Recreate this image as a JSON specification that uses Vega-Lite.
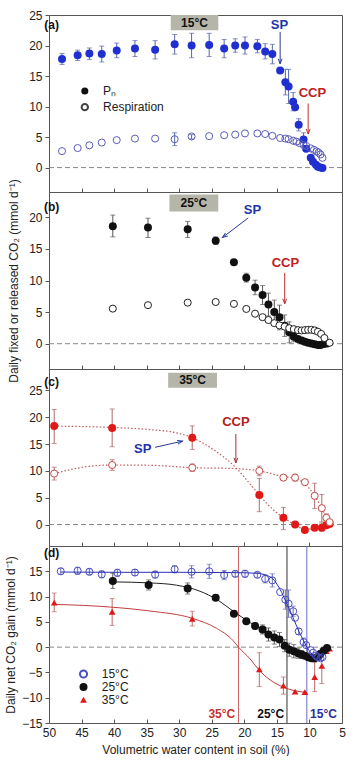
{
"$schema": "https://vega.github.io/schema/vega-lite/v6.json",
"padding": {"left": 4, "top": 8, "right": 5, "bottom": 0},
"spacing": 0,
"bounds": "flush",
"config": {
 "font": "Liberation Sans",
 "view": {"stroke": "#555", "strokeWidth": 1},
 "axis": {"domain": false, "grid": false, "labelOverlap": false, "labelFlush": false, "tickCount": 20, "tickColor": "#555", "tickSize": 4, "labelFont": "Liberation Sans", "labelFontSize": 12, "labelColor": "#222", "labelPadding": 3, "titleFont": "Liberation Sans", "titleFontSize": 12, "titleFontWeight": "normal", "titleColor": "#222"},
 "axisX": {"tickSize": -4, "labelPadding": 8}
},
"datasets": {
 "a": [
  {"s":"P","x":48.0,"y":17.8,"lo":16.9,"hi":18.7},
  {"s":"P","x":45.6,"y":18.4,"lo":17.55,"hi":19.25},
  {"s":"P","x":43.8,"y":18.7,"lo":17.7,"hi":19.6},
  {"s":"P","x":41.9,"y":18.6,"lo":17.3,"hi":19.9},
  {"s":"P","x":39.6,"y":19.2,"lo":18.0,"hi":20.4},
  {"s":"P","x":36.8,"y":19.5,"lo":18.2,"hi":20.8},
  {"s":"P","x":33.7,"y":19.3,"lo":17.8,"hi":20.8},
  {"s":"P","x":30.7,"y":20.2,"lo":18.6,"hi":21.8},
  {"s":"P","x":28.1,"y":20.0,"lo":18.0,"hi":22.0},
  {"s":"P","x":25.4,"y":20.1,"lo":18.2,"hi":22.0},
  {"s":"P","x":23.1,"y":19.5,"lo":18.0,"hi":21.0},
  {"s":"P","x":21.4,"y":20.0,"lo":18.9,"hi":21.1},
  {"s":"P","x":19.9,"y":20.0,"lo":18.6,"hi":21.4},
  {"s":"P","x":18.0,"y":19.9,"lo":18.8,"hi":21.0},
  {"s":"P","x":16.8,"y":19.0,"lo":17.8,"hi":20.3},
  {"s":"P","x":15.7,"y":18.6,"lo":17.0,"hi":20.2},
  {"s":"P","x":14.5,"y":15.9},
  {"s":"P","x":13.7,"y":14.0,"lo":11.9,"hi":16.1},
  {"s":"P","x":13.2,"y":13.3,"lo":10.5,"hi":16.1},
  {"s":"P","x":12.5,"y":10.8,"lo":9.3,"hi":12.3},
  {"s":"P","x":12.2,"y":9.9},
  {"s":"P","x":11.65,"y":7.0,"lo":6.0,"hi":8.0},
  {"s":"P","x":10.9,"y":4.6,"lo":3.5,"hi":5.7},
  {"s":"P","x":10.5,"y":3.1},
  {"s":"P","x":9.8,"y":1.6},
  {"s":"P","x":9.45,"y":0.95},
  {"s":"P","x":9.0,"y":0.45},
  {"s":"P","x":8.7,"y":0.15},
  {"s":"P","x":8.3,"y":0.02},
  {"s":"P","x":8.0,"y":-0.05},
  {"s":"R","x":48.0,"y":2.7},
  {"s":"R","x":45.6,"y":3.2},
  {"s":"R","x":43.8,"y":3.65},
  {"s":"R","x":41.9,"y":4.1},
  {"s":"R","x":39.6,"y":4.5},
  {"s":"R","x":36.8,"y":4.75},
  {"s":"R","x":33.7,"y":4.75},
  {"s":"R","x":30.7,"y":4.65,"lo":3.6,"hi":5.7},
  {"s":"R","x":28.1,"y":5.1,"lo":4.7,"hi":5.4},
  {"s":"R","x":25.4,"y":5.15},
  {"s":"R","x":23.1,"y":5.3},
  {"s":"R","x":21.4,"y":5.4},
  {"s":"R","x":19.9,"y":5.6},
  {"s":"R","x":18.0,"y":5.6},
  {"s":"R","x":16.8,"y":5.5},
  {"s":"R","x":15.7,"y":5.2},
  {"s":"R","x":14.5,"y":4.85},
  {"s":"R","x":13.7,"y":4.75},
  {"s":"R","x":13.2,"y":4.65},
  {"s":"R","x":12.5,"y":4.4},
  {"s":"R","x":12.0,"y":4.25},
  {"s":"R","x":11.5,"y":4.0},
  {"s":"R","x":10.9,"y":3.7},
  {"s":"R","x":10.5,"y":3.55},
  {"s":"R","x":9.8,"y":3.15},
  {"s":"R","x":9.3,"y":2.9},
  {"s":"R","x":8.9,"y":2.65},
  {"s":"R","x":8.6,"y":2.45},
  {"s":"R","x":8.3,"y":2.15},
  {"s":"R","x":8.0,"y":1.6}
 ],
 "b": [
  {"s":"P","x":40.2,"y":18.6,"lo":16.9,"hi":20.35},
  {"s":"P","x":34.8,"y":18.4,"lo":16.8,"hi":19.85},
  {"s":"P","x":28.7,"y":18.1,"lo":16.8,"hi":19.35},
  {"s":"P","x":24.4,"y":16.3,"lo":15.7,"hi":16.9},
  {"s":"P","x":21.6,"y":12.9},
  {"s":"P","x":19.7,"y":10.45,"lo":9.75,"hi":11.15},
  {"s":"P","x":18.35,"y":8.9,"lo":7.75,"hi":10.05},
  {"s":"P","x":17.2,"y":7.7,"lo":6.2,"hi":9.2},
  {"s":"P","x":16.3,"y":6.2,"lo":4.4,"hi":8.0},
  {"s":"P","x":15.4,"y":5.0,"lo":3.0,"hi":6.9},
  {"s":"P","x":14.6,"y":4.2,"lo":2.2,"hi":6.1},
  {"s":"P","x":13.8,"y":2.85,"lo":1.15,"hi":4.55},
  {"s":"P","x":13.1,"y":1.8,"lo":0.15,"hi":3.45},
  {"s":"P","x":12.4,"y":1.1,"lo":0.3,"hi":1.9},
  {"s":"P","x":11.75,"y":0.75},
  {"s":"P","x":11.2,"y":0.5},
  {"s":"P","x":10.7,"y":0.3},
  {"s":"P","x":10.2,"y":0.15},
  {"s":"P","x":9.7,"y":0.05},
  {"s":"P","x":9.2,"y":-0.1},
  {"s":"P","x":8.7,"y":-0.2},
  {"s":"P","x":8.3,"y":-0.2},
  {"s":"P","x":7.8,"y":-0.05},
  {"s":"P","x":7.3,"y":0.05},
  {"s":"R","x":40.2,"y":5.55},
  {"s":"R","x":34.8,"y":6.1},
  {"s":"R","x":28.7,"y":6.5},
  {"s":"R","x":24.4,"y":6.6},
  {"s":"R","x":21.6,"y":6.3},
  {"s":"R","x":19.7,"y":5.5},
  {"s":"R","x":18.35,"y":4.75},
  {"s":"R","x":17.2,"y":4.2},
  {"s":"R","x":16.3,"y":3.75},
  {"s":"R","x":15.4,"y":3.25},
  {"s":"R","x":14.6,"y":2.9},
  {"s":"R","x":13.8,"y":2.7},
  {"s":"R","x":13.1,"y":2.45},
  {"s":"R","x":12.4,"y":2.3},
  {"s":"R","x":11.75,"y":2.15},
  {"s":"R","x":11.2,"y":2.1},
  {"s":"R","x":10.7,"y":2.15},
  {"s":"R","x":10.2,"y":2.2},
  {"s":"R","x":9.7,"y":2.2},
  {"s":"R","x":9.2,"y":2.1},
  {"s":"R","x":8.7,"y":1.9},
  {"s":"R","x":8.2,"y":1.55},
  {"s":"R","x":7.7,"y":0.9},
  {"s":"R","x":6.9,"y":0.15}
 ],
 "c": [
  {"s":"P","x":49.2,"y":18.35,"lo":15.1,"hi":21.45},
  {"s":"P","x":40.3,"y":18.0,"lo":14.5,"hi":21.55},
  {"s":"P","x":28.0,"y":16.2,"lo":14.0,"hi":18.4},
  {"s":"P","x":17.7,"y":5.5,"lo":2.4,"hi":8.6},
  {"s":"P","x":14.0,"y":1.25,"lo":-0.95,"hi":3.2},
  {"s":"P","x":12.2,"y":0.0},
  {"s":"P","x":10.7,"y":-1.0,"lo":-1.5,"hi":-0.4},
  {"s":"P","x":9.2,"y":-0.6},
  {"s":"P","x":8.1,"y":-0.6,"lo":-1.2,"hi":0.3},
  {"s":"P","x":7.4,"y":-0.15},
  {"s":"P","x":6.9,"y":0.1},
  {"s":"R","x":49.2,"y":9.5,"lo":8.3,"hi":10.7},
  {"s":"R","x":40.3,"y":11.1,"lo":10.1,"hi":12.1},
  {"s":"R","x":28.0,"y":10.6,"lo":9.9,"hi":11.3},
  {"s":"R","x":17.7,"y":10.0,"lo":9.1,"hi":10.9},
  {"s":"R","x":14.0,"y":8.75,"lo":8.2,"hi":9.3},
  {"s":"R","x":12.2,"y":8.75,"lo":8.1,"hi":9.4},
  {"s":"R","x":10.7,"y":7.9},
  {"s":"R","x":9.2,"y":5.35,"lo":3.0,"hi":7.7},
  {"s":"R","x":8.1,"y":3.05,"lo":0.5,"hi":5.6},
  {"s":"R","x":7.4,"y":1.25,"lo":0.5,"hi":2.0},
  {"s":"R","x":6.9,"y":0.45}
 ],
 "cfit": [
  {"s":"P","x":49.2,"y":18.35},{"s":"P","x":40.3,"y":18.1},{"s":"P","x":34.5,"y":17.7},{"s":"P","x":30.4,"y":17.1},{"s":"P","x":28.0,"y":16.2},{"s":"P","x":24.8,"y":14.0},{"s":"P","x":21.3,"y":10.6},{"s":"P","x":18.6,"y":6.8},{"s":"P","x":16.6,"y":4.0},{"s":"P","x":14.0,"y":1.25},{"s":"P","x":12.2,"y":0.0},{"s":"P","x":10.7,"y":-0.9},{"s":"P","x":9.2,"y":-0.7},{"s":"P","x":7.9,"y":-0.4},{"s":"P","x":6.9,"y":0.0},
  {"s":"R","x":49.2,"y":9.5},{"s":"R","x":44.7,"y":10.7},{"s":"R","x":40.3,"y":11.1},{"s":"R","x":34.5,"y":11.05},{"s":"R","x":28.0,"y":10.6},{"s":"R","x":21.7,"y":10.45},{"s":"R","x":17.7,"y":10.0},{"s":"R","x":14.0,"y":8.95},{"s":"R","x":12.2,"y":8.6},{"s":"R","x":10.7,"y":7.6},{"s":"R","x":9.2,"y":5.35},{"s":"R","x":8.1,"y":3.05},{"s":"R","x":7.4,"y":1.35},{"s":"R","x":6.9,"y":0.45}
 ],
 "d": [
  {"s":"15","x":48.2,"y":15.0,"lo":14.4,"hi":15.6},
  {"s":"15","x":45.6,"y":15.1,"lo":14.4,"hi":15.8},
  {"s":"15","x":43.8,"y":14.9,"lo":14.3,"hi":15.5},
  {"s":"15","x":41.9,"y":14.4,"lo":13.7,"hi":15.1},
  {"s":"15","x":39.5,"y":14.7,"lo":14.0,"hi":15.4},
  {"s":"15","x":36.8,"y":14.75,"lo":14.15,"hi":15.35},
  {"s":"15","x":33.7,"y":14.35,"lo":13.65,"hi":15.05},
  {"s":"15","x":30.7,"y":15.4,"lo":14.7,"hi":16.1},
  {"s":"15","x":28.1,"y":14.9,"lo":13.7,"hi":16.1},
  {"s":"15","x":25.4,"y":15.0,"lo":13.6,"hi":16.4},
  {"s":"15","x":23.1,"y":14.25,"lo":13.35,"hi":15.15},
  {"s":"15","x":21.4,"y":14.5,"lo":13.9,"hi":15.1},
  {"s":"15","x":19.9,"y":14.5,"lo":13.8,"hi":15.2},
  {"s":"15","x":18.0,"y":14.3,"lo":13.8,"hi":14.8},
  {"s":"15","x":16.8,"y":13.5,"lo":12.7,"hi":14.3},
  {"s":"15","x":15.7,"y":13.2,"lo":11.9,"hi":14.5},
  {"s":"15","x":14.5,"y":10.9},
  {"s":"15","x":13.7,"y":9.4,"lo":7.5,"hi":11.3},
  {"s":"15","x":13.2,"y":8.6,"lo":5.9,"hi":11.3},
  {"s":"15","x":12.5,"y":7.1,"lo":6.1,"hi":8.1},
  {"s":"15","x":12.2,"y":5.8},
  {"s":"15","x":11.65,"y":3.1,"lo":2.5,"hi":3.7},
  {"s":"15","x":10.9,"y":1.0,"lo":0.2,"hi":1.8},
  {"s":"15","x":10.5,"y":0.4},
  {"s":"15","x":9.8,"y":-0.6},
  {"s":"15","x":9.45,"y":-1.1},
  {"s":"15","x":9.0,"y":-1.7},
  {"s":"15","x":8.7,"y":-2.0},
  {"s":"15","x":8.3,"y":-2.2},
  {"s":"15","x":8.0,"y":-2.0},
  {"s":"25","x":40.2,"y":13.1,"lo":11.6,"hi":14.6},
  {"s":"25","x":34.7,"y":12.3,"lo":11.3,"hi":13.3},
  {"s":"25","x":28.7,"y":11.6,"lo":10.5,"hi":12.7},
  {"s":"25","x":24.4,"y":9.75},
  {"s":"25","x":21.6,"y":6.6},
  {"s":"25","x":19.7,"y":5.1},
  {"s":"25","x":18.35,"y":4.2,"lo":3.6,"hi":4.8},
  {"s":"25","x":17.2,"y":3.5,"lo":2.6,"hi":4.4},
  {"s":"25","x":16.3,"y":2.5,"lo":1.2,"hi":3.8},
  {"s":"25","x":15.4,"y":1.9,"lo":0.6,"hi":3.2},
  {"s":"25","x":14.6,"y":1.5,"lo":0.1,"hi":2.9},
  {"s":"25","x":13.8,"y":0.3,"lo":-0.9,"hi":1.5},
  {"s":"25","x":13.1,"y":-0.5,"lo":-1.8,"hi":0.8},
  {"s":"25","x":12.4,"y":-0.8,"lo":-2.1,"hi":0.5},
  {"s":"25","x":11.75,"y":-1.2,"lo":-2.2,"hi":-0.2},
  {"s":"25","x":11.2,"y":-1.45,"lo":-2.25,"hi":-0.65},
  {"s":"25","x":10.7,"y":-1.7},
  {"s":"25","x":10.2,"y":-2.0},
  {"s":"25","x":9.7,"y":-2.2},
  {"s":"25","x":9.2,"y":-2.2},
  {"s":"25","x":8.7,"y":-1.9},
  {"s":"25","x":8.3,"y":-1.3},
  {"s":"25","x":7.8,"y":-0.7},
  {"s":"25","x":7.3,"y":-0.15},
  {"s":"35","x":49.2,"y":8.8,"lo":7.0,"hi":10.7},
  {"s":"35","x":40.3,"y":7.0,"lo":4.3,"hi":9.6},
  {"s":"35","x":28.0,"y":5.6,"lo":4.2,"hi":7.1},
  {"s":"35","x":17.7,"y":-4.4,"lo":-7.8,"hi":-1.1},
  {"s":"35","x":14.0,"y":-7.6,"lo":-9.3,"hi":-5.9},
  {"s":"35","x":12.2,"y":-8.8},
  {"s":"35","x":10.7,"y":-8.9},
  {"s":"35","x":9.2,"y":-5.9,"lo":-8.8,"hi":-3.0},
  {"s":"35","x":8.1,"y":-3.7,"lo":-7.2,"hi":-0.2},
  {"s":"35","x":7.4,"y":-0.8},
  {"s":"35","x":6.9,"y":-0.3}
 ],
 "dfit": [
  {"s":"15","x":48.2,"y":14.85},{"s":"15","x":40.0,"y":14.8},{"s":"15","x":30.0,"y":14.8},{"s":"15","x":22.0,"y":14.75},{"s":"15","x":18.0,"y":14.6},{"s":"15","x":16.6,"y":14.2},{"s":"15","x":15.7,"y":13.6},{"s":"15","x":14.5,"y":11.4},{"s":"15","x":13.55,"y":8.8},{"s":"15","x":12.5,"y":5.8},{"s":"15","x":11.65,"y":3.2},{"s":"15","x":10.9,"y":1.25},{"s":"15","x":10.2,"y":-0.4},{"s":"15","x":9.45,"y":-1.6},{"s":"15","x":8.9,"y":-2.3},{"s":"15","x":8.3,"y":-2.35},{"s":"15","x":7.9,"y":-1.6},
  {"s":"25","x":40.2,"y":12.9},{"s":"25","x":34.5,"y":12.7},{"s":"25","x":30.4,"y":12.25},{"s":"25","x":26.8,"y":11.05},{"s":"25","x":24.2,"y":9.4},{"s":"25","x":21.7,"y":7.1},{"s":"25","x":19.1,"y":4.85},{"s":"25","x":16.6,"y":2.9},{"s":"25","x":14.0,"y":1.0},{"s":"25","x":11.5,"y":-0.9},{"s":"25","x":9.7,"y":-2.0},
  {"s":"35","x":49.2,"y":8.45},{"s":"35","x":44.7,"y":8.25},{"s":"35","x":40.3,"y":7.9},{"s":"35","x":34.5,"y":7.15},{"s":"35","x":28.0,"y":5.7},{"s":"35","x":24.3,"y":3.75},{"s":"35","x":21.7,"y":1.25},{"s":"35","x":20.9,"y":0.0},{"s":"35","x":19.1,"y":-2.35},{"s":"35","x":17.7,"y":-4.6},{"s":"35","x":15.5,"y":-6.95},{"s":"35","x":14.0,"y":-7.9},{"s":"35","x":12.5,"y":-8.55},{"s":"35","x":10.7,"y":-8.9}
 ]
},
"vconcat": [
 {
  "width": 293, "height": 177,
  "layer": [
   {"data": {"values": [{"x": 50, "x2": 5, "y": 0}]}, "mark": {"type": "rule", "color": "#888", "strokeDash": [5, 3]},
    "encoding": {"x": {"field": "x", "type": "quantitative", "scale": {"domain": [50, 5], "nice": false, "zero": false}, "axis": {"values": [50,45,40,35,30,25,20,15,10,5], "tickCount": 20, "labels": false, "title": null}}, "x2": {"field": "x2"},
     "y": {"field": "y", "type": "quantitative", "scale": {"domain": [-4, 25], "nice": false, "zero": false}, "axis": {"values": [0,5,10,15,20,25], "tickCount": 20, "title": null}}}},
   {"data": {"name": "a"}, "transform": [{"filter": "isValid(datum.lo)"}], "mark": {"type": "errorbar", "ticks": true, "color": "#5865a8"},
    "encoding": {"x": {"field": "x", "type": "quantitative", "scale": {"domain": [50, 5], "nice": false, "zero": false}, "axis": {"values": [50,45,40,35,30,25,20,15,10,5], "tickCount": 20, "labels": false, "title": null}},
     "y": {"field": "lo", "type": "quantitative", "title": null, "scale": {"domain": [-4, 25], "nice": false, "zero": false}, "axis": {"values": [0,5,10,15,20,25], "tickCount": 20, "title": null}}, "y2": {"field": "hi"}}},
   {"data": {"name": "a"}, "transform": [{"filter": "datum.s == 'P'"}], "mark": {"type": "circle", "size": 64, "color": "#1f2fd0", "opacity": 1},
    "encoding": {"x": {"field": "x", "type": "quantitative", "scale": {"domain": [50, 5], "nice": false, "zero": false}, "axis": {"values": [50,45,40,35,30,25,20,15,10,5], "tickCount": 20, "labels": false, "title": null}},
     "y": {"field": "y", "type": "quantitative", "scale": {"domain": [-4, 25], "nice": false, "zero": false}, "axis": {"values": [0,5,10,15,20,25], "tickCount": 20, "title": null}}}},
   {"data": {"name": "a"}, "transform": [{"filter": "datum.s == 'R'"}], "mark": {"type": "point", "shape": "circle", "filled": false, "size": 50, "stroke": "#5a5cb8", "strokeWidth": 1, "opacity": 1},
    "encoding": {"x": {"field": "x", "type": "quantitative", "scale": {"domain": [50, 5], "nice": false, "zero": false}, "axis": {"values": [50,45,40,35,30,25,20,15,10,5], "tickCount": 20, "labels": false, "title": null}},
     "y": {"field": "y", "type": "quantitative", "scale": {"domain": [-4, 25], "nice": false, "zero": false}, "axis": {"values": [0,5,10,15,20,25], "tickCount": 20, "title": null}}}},
   {"data": {"values": [{"x": 31.3, "x2": 24.0, "y": 25, "y2": 22.5}]}, "mark": {"type": "rect", "color": "#b5b5a9"},
    "encoding": {"x": {"field": "x", "type": "quantitative"}, "x2": {"field": "x2"}, "y": {"field": "y", "type": "quantitative"}, "y2": {"field": "y2"}}},
   {"data": {"values": [{"x": 27.65, "y": 23.75, "t": "15°C"}, {"x": 49.6, "y": 23.3, "t": "(a)"}]}, "mark": {"type": "text", "fontWeight": "bold", "fontSize": 12, "color": "#111", "align": "center", "baseline": "middle"},
    "encoding": {"x": {"field": "x", "type": "quantitative"}, "y": {"field": "y", "type": "quantitative"}, "text": {"field": "t"}}},
   {"data": {"values": [{"x": 44.5, "y": 12.55}]}, "mark": {"type": "circle", "size": 50, "color": "#111", "opacity": 1},
    "encoding": {"x": {"field": "x", "type": "quantitative"}, "y": {"field": "y", "type": "quantitative"}}},
   {"data": {"values": [{"x": 44.5, "y": 9.9}]}, "mark": {"type": "point", "shape": "circle", "filled": false, "size": 40, "stroke": "#444", "opacity": 1},
    "encoding": {"x": {"field": "x", "type": "quantitative"}, "y": {"field": "y", "type": "quantitative"}}},
   {"data": {"values": [{"x": 41.7, "y": 12.55, "t": "Pₙ"}, {"x": 41.7, "y": 9.9, "t": "Respiration"}]}, "mark": {"type": "text", "fontSize": 12, "color": "#222", "align": "left", "baseline": "middle"},
    "encoding": {"x": {"field": "x", "type": "quantitative"}, "y": {"field": "y", "type": "quantitative"}, "text": {"field": "t"}}},
   {"data": {"values": [{"x": 14.5, "y": 22.2, "x2": 14.5, "y2": 17.0}]}, "mark": {"type": "rule", "color": "#2a3a9a"},
    "encoding": {"x": {"field": "x", "type": "quantitative"}, "y": {"field": "y", "type": "quantitative"}, "x2": {"field": "x2"}, "y2": {"field": "y2"}}},
   {"data": {"values": [{"x": 14.5, "y": 17.0}]}, "mark": {"type": "point", "shape": "M-0.6,-1.6L0,0L0.6,-1.6", "filled": false, "size": 40, "stroke": "#2a3a9a", "strokeWidth": 1, "opacity": 1},
    "encoding": {"x": {"field": "x", "type": "quantitative"}, "y": {"field": "y", "type": "quantitative"}}},
   {"data": {"values": [{"x": 14.6, "y": 23.3, "t": "SP"}]}, "mark": {"type": "text", "fontWeight": "bold", "fontSize": 13, "color": "#2233aa", "align": "center", "baseline": "middle"},
    "encoding": {"x": {"field": "x", "type": "quantitative"}, "y": {"field": "y", "type": "quantitative"}, "text": {"field": "t"}}},
   {"data": {"values": [{"x": 10.2, "y": 10.5, "x2": 10.2, "y2": 5.5}]}, "mark": {"type": "rule", "color": "#c03030"},
    "encoding": {"x": {"field": "x", "type": "quantitative"}, "y": {"field": "y", "type": "quantitative"}, "x2": {"field": "x2"}, "y2": {"field": "y2"}}},
   {"data": {"values": [{"x": 10.2, "y": 5.5}]}, "mark": {"type": "point", "shape": "M-0.6,-1.6L0,0L0.6,-1.6", "filled": false, "size": 40, "stroke": "#c03030", "strokeWidth": 1, "opacity": 1},
    "encoding": {"x": {"field": "x", "type": "quantitative"}, "y": {"field": "y", "type": "quantitative"}}},
   {"data": {"values": [{"x": 9.55, "y": 12.3, "t": "CCP"}]}, "mark": {"type": "text", "fontWeight": "bold", "fontSize": 13, "color": "#c02020", "align": "center", "baseline": "middle"},
    "encoding": {"x": {"field": "x", "type": "quantitative"}, "y": {"field": "y", "type": "quantitative"}, "text": {"field": "t"}}}
  ]
 },
 {
  "width": 293, "height": 177,
  "layer": [
   {"data": {"values": [{"x": 50, "x2": 5, "y": 0}]}, "mark": {"type": "rule", "color": "#888", "strokeDash": [5, 3]},
    "encoding": {"x": {"field": "x", "type": "quantitative", "scale": {"domain": [50, 5], "nice": false, "zero": false}, "axis": {"values": [50,45,40,35,30,25,20,15,10,5], "tickCount": 20, "labels": false, "title": null}}, "x2": {"field": "x2"},
     "y": {"field": "y", "type": "quantitative", "scale": {"domain": [-4, 24], "nice": false, "zero": false}, "axis": {"values": [0,5,10,15,20], "tickCount": 20, "title": "Daily fixed or released CO₂ (mmol d⁻¹)", "titlePadding": 8}}}},
   {"data": {"name": "b"}, "transform": [{"filter": "isValid(datum.lo)"}], "mark": {"type": "errorbar", "ticks": true, "color": "#555"},
    "encoding": {"x": {"field": "x", "type": "quantitative", "scale": {"domain": [50, 5], "nice": false, "zero": false}, "axis": {"values": [50,45,40,35,30,25,20,15,10,5], "tickCount": 20, "labels": false, "title": null}},
     "y": {"field": "lo", "type": "quantitative", "title": "Daily fixed or released CO₂ (mmol d⁻¹)", "scale": {"domain": [-4, 24], "nice": false, "zero": false}, "axis": {"values": [0,5,10,15,20], "tickCount": 20, "title": "Daily fixed or released CO₂ (mmol d⁻¹)", "titlePadding": 8}}, "y2": {"field": "hi"}}},
   {"data": {"name": "b"}, "transform": [{"filter": "datum.s == 'P'"}], "mark": {"type": "circle", "size": 64, "color": "#111", "opacity": 1},
    "encoding": {"x": {"field": "x", "type": "quantitative", "scale": {"domain": [50, 5], "nice": false, "zero": false}, "axis": {"values": [50,45,40,35,30,25,20,15,10,5], "tickCount": 20, "labels": false, "title": null}},
     "y": {"field": "y", "type": "quantitative", "scale": {"domain": [-4, 24], "nice": false, "zero": false}, "axis": {"values": [0,5,10,15,20], "tickCount": 20, "title": "Daily fixed or released CO₂ (mmol d⁻¹)", "titlePadding": 8}}}},
   {"data": {"name": "b"}, "transform": [{"filter": "datum.s == 'R'"}], "mark": {"type": "point", "shape": "circle", "filled": true, "fill": "#fff", "size": 50, "stroke": "#222", "strokeWidth": 1, "opacity": 1},
    "encoding": {"x": {"field": "x", "type": "quantitative", "scale": {"domain": [50, 5], "nice": false, "zero": false}, "axis": {"values": [50,45,40,35,30,25,20,15,10,5], "tickCount": 20, "labels": false, "title": null}},
     "y": {"field": "y", "type": "quantitative", "scale": {"domain": [-4, 24], "nice": false, "zero": false}, "axis": {"values": [0,5,10,15,20], "tickCount": 20, "title": "Daily fixed or released CO₂ (mmol d⁻¹)", "titlePadding": 8}}}},
   {"data": {"values": [{"x": 31.5, "x2": 24.0, "y": 23.6, "y2": 20.9}]}, "mark": {"type": "rect", "color": "#b5b5a9"},
    "encoding": {"x": {"field": "x", "type": "quantitative"}, "x2": {"field": "x2"}, "y": {"field": "y", "type": "quantitative"}, "y2": {"field": "y2"}}},
   {"data": {"values": [{"x": 27.75, "y": 22.25, "t": "25°C"}, {"x": 49.6, "y": 21.7, "t": "(b)"}]}, "mark": {"type": "text", "fontWeight": "bold", "fontSize": 12, "color": "#111", "align": "center", "baseline": "middle"},
    "encoding": {"x": {"field": "x", "type": "quantitative"}, "y": {"field": "y", "type": "quantitative"}, "text": {"field": "t"}}},
   {"data": {"values": [{"x": 19.4, "y": 19.9, "x2": 23.35, "y2": 16.8}]}, "mark": {"type": "rule", "color": "#2a3a9a"},
    "encoding": {"x": {"field": "x", "type": "quantitative"}, "y": {"field": "y", "type": "quantitative"}, "x2": {"field": "x2"}, "y2": {"field": "y2"}}},
   {"data": {"values": [{"x": 23.35, "y": 16.8}]}, "mark": {"type": "point", "shape": "M-0.6,-1.6L0,0L0.6,-1.6", "angle": 53, "filled": false, "size": 40, "stroke": "#2a3a9a", "strokeWidth": 1, "opacity": 1},
    "encoding": {"x": {"field": "x", "type": "quantitative"}, "y": {"field": "y", "type": "quantitative"}}},
   {"data": {"values": [{"x": 18.75, "y": 21.2, "t": "SP"}]}, "mark": {"type": "text", "fontWeight": "bold", "fontSize": 13, "color": "#2233aa", "align": "center", "baseline": "middle"},
    "encoding": {"x": {"field": "x", "type": "quantitative"}, "y": {"field": "y", "type": "quantitative"}, "text": {"field": "t"}}},
   {"data": {"values": [{"x": 13.8, "y": 11.2, "x2": 13.8, "y2": 6.3}]}, "mark": {"type": "rule", "color": "#c03030"},
    "encoding": {"x": {"field": "x", "type": "quantitative"}, "y": {"field": "y", "type": "quantitative"}, "x2": {"field": "x2"}, "y2": {"field": "y2"}}},
   {"data": {"values": [{"x": 13.8, "y": 6.3}]}, "mark": {"type": "point", "shape": "M-0.6,-1.6L0,0L0.6,-1.6", "filled": false, "size": 40, "stroke": "#c03030", "strokeWidth": 1, "opacity": 1},
    "encoding": {"x": {"field": "x", "type": "quantitative"}, "y": {"field": "y", "type": "quantitative"}}},
   {"data": {"values": [{"x": 13.7, "y": 12.8, "t": "CCP"}]}, "mark": {"type": "text", "fontWeight": "bold", "fontSize": 13, "color": "#c02020", "align": "center", "baseline": "middle"},
    "encoding": {"x": {"field": "x", "type": "quantitative"}, "y": {"field": "y", "type": "quantitative"}, "text": {"field": "t"}}}
  ]
 },
 {
  "width": 293, "height": 177,
  "layer": [
   {"data": {"values": [{"x": 50, "x2": 5, "y": 0}]}, "mark": {"type": "rule", "color": "#888", "strokeDash": [5, 3]},
    "encoding": {"x": {"field": "x", "type": "quantitative", "scale": {"domain": [50, 5], "nice": false, "zero": false}, "axis": {"values": [50,45,40,35,30,25,20,15,10,5], "tickCount": 20, "labels": false, "title": null}}, "x2": {"field": "x2"},
     "y": {"field": "y", "type": "quantitative", "scale": {"domain": [-4, 29], "nice": false, "zero": false}, "axis": {"values": [0,5,10,15,20,25], "tickCount": 20, "title": null}}}},
   {"data": {"name": "cfit"}, "mark": {"type": "line", "color": "#c05a5a", "strokeDash": [1.5, 2], "strokeWidth": 1.2, "interpolate": "monotone"},
    "encoding": {"x": {"field": "x", "type": "quantitative", "scale": {"domain": [50, 5], "nice": false, "zero": false}, "axis": {"values": [50,45,40,35,30,25,20,15,10,5], "tickCount": 20, "labels": false, "title": null}},
     "y": {"field": "y", "type": "quantitative", "scale": {"domain": [-4, 29], "nice": false, "zero": false}, "axis": {"values": [0,5,10,15,20,25], "tickCount": 20, "title": null}}, "detail": {"field": "s"}}},
   {"data": {"name": "c"}, "transform": [{"filter": "isValid(datum.lo)"}], "mark": {"type": "errorbar", "ticks": true, "color": "#b06a6a"},
    "encoding": {"x": {"field": "x", "type": "quantitative", "scale": {"domain": [50, 5], "nice": false, "zero": false}, "axis": {"values": [50,45,40,35,30,25,20,15,10,5], "tickCount": 20, "labels": false, "title": null}},
     "y": {"field": "lo", "type": "quantitative", "title": null, "scale": {"domain": [-4, 29], "nice": false, "zero": false}, "axis": {"values": [0,5,10,15,20,25], "tickCount": 20, "title": null}}, "y2": {"field": "hi"}}},
   {"data": {"name": "c"}, "transform": [{"filter": "datum.s == 'P'"}], "mark": {"type": "circle", "size": 64, "color": "#e01818", "opacity": 1},
    "encoding": {"x": {"field": "x", "type": "quantitative", "scale": {"domain": [50, 5], "nice": false, "zero": false}, "axis": {"values": [50,45,40,35,30,25,20,15,10,5], "tickCount": 20, "labels": false, "title": null}},
     "y": {"field": "y", "type": "quantitative", "scale": {"domain": [-4, 29], "nice": false, "zero": false}, "axis": {"values": [0,5,10,15,20,25], "tickCount": 20, "title": null}}}},
   {"data": {"name": "c"}, "transform": [{"filter": "datum.s == 'R'"}], "mark": {"type": "point", "shape": "circle", "filled": true, "fill": "#fff", "size": 50, "stroke": "#c04a4a", "strokeWidth": 1, "opacity": 1},
    "encoding": {"x": {"field": "x", "type": "quantitative", "scale": {"domain": [50, 5], "nice": false, "zero": false}, "axis": {"values": [50,45,40,35,30,25,20,15,10,5], "tickCount": 20, "labels": false, "title": null}},
     "y": {"field": "y", "type": "quantitative", "scale": {"domain": [-4, 29], "nice": false, "zero": false}, "axis": {"values": [0,5,10,15,20,25], "tickCount": 20, "title": null}}}},
   {"data": {"values": [{"x": 31.7, "x2": 24.2, "y": 28.3, "y2": 25.5}]}, "mark": {"type": "rect", "color": "#b5b5a9"},
    "encoding": {"x": {"field": "x", "type": "quantitative"}, "x2": {"field": "x2"}, "y": {"field": "y", "type": "quantitative"}, "y2": {"field": "y2"}}},
   {"data": {"values": [{"x": 27.95, "y": 26.9, "t": "35°C"}, {"x": 49.6, "y": 26.6, "t": "(c)"}]}, "mark": {"type": "text", "fontWeight": "bold", "fontSize": 12, "color": "#111", "align": "center", "baseline": "middle"},
    "encoding": {"x": {"field": "x", "type": "quantitative"}, "y": {"field": "y", "type": "quantitative"}, "text": {"field": "t"}}},
   {"data": {"values": [{"x": 33.7, "y": 14.4, "x2": 29.5, "y2": 15.55}]}, "mark": {"type": "rule", "color": "#2a3a9a"},
    "encoding": {"x": {"field": "x", "type": "quantitative"}, "y": {"field": "y", "type": "quantitative"}, "x2": {"field": "x2"}, "y2": {"field": "y2"}}},
   {"data": {"values": [{"x": 29.5, "y": 15.55}]}, "mark": {"type": "point", "shape": "M-0.6,-1.6L0,0L0.6,-1.6", "angle": 257, "filled": false, "size": 40, "stroke": "#2a3a9a", "strokeWidth": 1, "opacity": 1},
    "encoding": {"x": {"field": "x", "type": "quantitative"}, "y": {"field": "y", "type": "quantitative"}}},
   {"data": {"values": [{"x": 35.6, "y": 14.0, "t": "SP"}]}, "mark": {"type": "text", "fontWeight": "bold", "fontSize": 13, "color": "#2233aa", "align": "center", "baseline": "middle"},
    "encoding": {"x": {"field": "x", "type": "quantitative"}, "y": {"field": "y", "type": "quantitative"}, "text": {"field": "t"}}},
   {"data": {"values": [{"x": 21.3, "y": 16.9, "x2": 21.3, "y2": 11.5}]}, "mark": {"type": "rule", "color": "#a03030"},
    "encoding": {"x": {"field": "x", "type": "quantitative"}, "y": {"field": "y", "type": "quantitative"}, "x2": {"field": "x2"}, "y2": {"field": "y2"}}},
   {"data": {"values": [{"x": 21.3, "y": 11.5}]}, "mark": {"type": "point", "shape": "M-0.6,-1.6L0,0L0.6,-1.6", "filled": false, "size": 40, "stroke": "#a03030", "strokeWidth": 1, "opacity": 1},
    "encoding": {"x": {"field": "x", "type": "quantitative"}, "y": {"field": "y", "type": "quantitative"}}},
   {"data": {"values": [{"x": 21.3, "y": 19.1, "t": "CCP"}]}, "mark": {"type": "text", "fontWeight": "bold", "fontSize": 13, "color": "#b02020", "align": "center", "baseline": "middle"},
    "encoding": {"x": {"field": "x", "type": "quantitative"}, "y": {"field": "y", "type": "quantitative"}, "text": {"field": "t"}}}
  ]
 },
 {
  "width": 293, "height": 177,
  "layer": [
   {"data": {"values": [{"x": 50, "x2": 5, "y": 0}]}, "mark": {"type": "rule", "color": "#888", "strokeDash": [5, 3]},
    "encoding": {"x": {"field": "x", "type": "quantitative", "scale": {"domain": [50, 5], "nice": false, "zero": false}, "axis": {"values": [50,45,40,35,30,25,20,15,10,5], "tickCount": 20, "title": "Volumetric water content in soil (%)", "titlePadding": 6}}, "x2": {"field": "x2"},
     "y": {"field": "y", "type": "quantitative", "scale": {"domain": [-15, 20], "nice": false, "zero": false}, "axis": {"values": [-15,-10,-5,0,5,10,15], "tickCount": 20, "title": "Daily net CO₂ gain (mmol d⁻¹)", "titlePadding": 4}}}},
   {"data": {"values": [{"x": 20.9, "y": -15, "y2": 20}]}, "mark": {"type": "rule", "color": "#d06060"},
    "encoding": {"x": {"field": "x", "type": "quantitative"}, "y": {"field": "y", "type": "quantitative"}, "y2": {"field": "y2"}}},
   {"data": {"values": [{"x": 13.45, "y": -15, "y2": 20}]}, "mark": {"type": "rule", "color": "#333"},
    "encoding": {"x": {"field": "x", "type": "quantitative"}, "y": {"field": "y", "type": "quantitative"}, "y2": {"field": "y2"}}},
   {"data": {"values": [{"x": 10.4, "y": -15, "y2": 20}]}, "mark": {"type": "rule", "color": "#6a6ac8"},
    "encoding": {"x": {"field": "x", "type": "quantitative"}, "y": {"field": "y", "type": "quantitative"}, "y2": {"field": "y2"}}},
   {"data": {"name": "d"}, "transform": [{"filter": "isValid(datum.lo) && datum.s == '15'"}], "mark": {"type": "errorbar", "ticks": true, "color": "#6a70b8"},
    "encoding": {"x": {"field": "x", "type": "quantitative", "scale": {"domain": [50, 5], "nice": false, "zero": false}, "axis": {"values": [50,45,40,35,30,25,20,15,10,5], "tickCount": 20, "title": "Volumetric water content in soil (%)", "titlePadding": 6}},
     "y": {"field": "lo", "type": "quantitative", "title": "Daily net CO₂ gain (mmol d⁻¹)", "scale": {"domain": [-15, 20], "nice": false, "zero": false}, "axis": {"values": [-15,-10,-5,0,5,10,15], "tickCount": 20, "title": "Daily net CO₂ gain (mmol d⁻¹)", "titlePadding": 4}}, "y2": {"field": "hi"}}},
   {"data": {"name": "d"}, "transform": [{"filter": "isValid(datum.lo) && datum.s == '25'"}], "mark": {"type": "errorbar", "ticks": true, "color": "#555"},
    "encoding": {"x": {"field": "x", "type": "quantitative", "scale": {"domain": [50, 5], "nice": false, "zero": false}, "axis": {"values": [50,45,40,35,30,25,20,15,10,5], "tickCount": 20, "title": "Volumetric water content in soil (%)", "titlePadding": 6}},
     "y": {"field": "lo", "type": "quantitative", "title": "Daily net CO₂ gain (mmol d⁻¹)", "scale": {"domain": [-15, 20], "nice": false, "zero": false}, "axis": {"values": [-15,-10,-5,0,5,10,15], "tickCount": 20, "title": "Daily net CO₂ gain (mmol d⁻¹)", "titlePadding": 4}}, "y2": {"field": "hi"}}},
   {"data": {"name": "d"}, "transform": [{"filter": "isValid(datum.lo) && datum.s == '35'"}], "mark": {"type": "errorbar", "ticks": true, "color": "#c06a6a"},
    "encoding": {"x": {"field": "x", "type": "quantitative", "scale": {"domain": [50, 5], "nice": false, "zero": false}, "axis": {"values": [50,45,40,35,30,25,20,15,10,5], "tickCount": 20, "title": "Volumetric water content in soil (%)", "titlePadding": 6}},
     "y": {"field": "lo", "type": "quantitative", "title": "Daily net CO₂ gain (mmol d⁻¹)", "scale": {"domain": [-15, 20], "nice": false, "zero": false}, "axis": {"values": [-15,-10,-5,0,5,10,15], "tickCount": 20, "title": "Daily net CO₂ gain (mmol d⁻¹)", "titlePadding": 4}}, "y2": {"field": "hi"}}},
   {"data": {"name": "dfit"}, "transform": [{"filter": "datum.s == '35'"}], "mark": {"type": "line", "color": "#c04040", "strokeWidth": 1, "interpolate": "monotone"},
    "encoding": {"x": {"field": "x", "type": "quantitative"}, "y": {"field": "y", "type": "quantitative"}}},
   {"data": {"name": "dfit"}, "transform": [{"filter": "datum.s == '25'"}], "mark": {"type": "line", "color": "#222", "strokeWidth": 1, "interpolate": "monotone"},
    "encoding": {"x": {"field": "x", "type": "quantitative"}, "y": {"field": "y", "type": "quantitative"}}},
   {"data": {"name": "d"}, "transform": [{"filter": "datum.s == '35'"}], "mark": {"type": "point", "shape": "triangle-up", "filled": true, "size": 45, "color": "#e01818", "opacity": 1},
    "encoding": {"x": {"field": "x", "type": "quantitative"}, "y": {"field": "y", "type": "quantitative"}}},
   {"data": {"name": "d"}, "transform": [{"filter": "datum.s == '25'"}], "mark": {"type": "circle", "size": 64, "color": "#111", "opacity": 1},
    "encoding": {"x": {"field": "x", "type": "quantitative", "scale": {"domain": [50, 5], "nice": false, "zero": false}, "axis": {"values": [50,45,40,35,30,25,20,15,10,5], "tickCount": 20, "title": "Volumetric water content in soil (%)", "titlePadding": 6}},
     "y": {"field": "y", "type": "quantitative", "scale": {"domain": [-15, 20], "nice": false, "zero": false}, "axis": {"values": [-15,-10,-5,0,5,10,15], "tickCount": 20, "title": "Daily net CO₂ gain (mmol d⁻¹)", "titlePadding": 4}}}},
   {"data": {"name": "d"}, "transform": [{"filter": "datum.s == '15'"}], "mark": {"type": "point", "shape": "circle", "filled": false, "size": 50, "stroke": "#4a4ec0", "strokeWidth": 1, "opacity": 1},
    "encoding": {"x": {"field": "x", "type": "quantitative"}, "y": {"field": "y", "type": "quantitative"}}},
   {"data": {"name": "dfit"}, "transform": [{"filter": "datum.s == '15'"}], "mark": {"type": "line", "color": "#2a30b0", "strokeWidth": 1, "interpolate": "monotone"},
    "encoding": {"x": {"field": "x", "type": "quantitative"}, "y": {"field": "y", "type": "quantitative"}}},
   {"data": {"values": [{"x": 49.6, "y": 18.6, "t": "(d)"}]}, "mark": {"type": "text", "fontWeight": "bold", "fontSize": 12, "color": "#111", "align": "center", "baseline": "middle"},
    "encoding": {"x": {"field": "x", "type": "quantitative"}, "y": {"field": "y", "type": "quantitative"}, "text": {"field": "t"}}},
   {"data": {"values": [{"x": 44.7, "y": -5.3}]}, "mark": {"type": "point", "shape": "circle", "filled": false, "size": 50, "stroke": "#4a4ec0", "opacity": 1},
    "encoding": {"x": {"field": "x", "type": "quantitative"}, "y": {"field": "y", "type": "quantitative"}}},
   {"data": {"values": [{"x": 44.7, "y": -7.9}]}, "mark": {"type": "circle", "size": 64, "color": "#111", "opacity": 1},
    "encoding": {"x": {"field": "x", "type": "quantitative"}, "y": {"field": "y", "type": "quantitative"}}},
   {"data": {"values": [{"x": 44.7, "y": -10.4}]}, "mark": {"type": "point", "shape": "triangle-up", "filled": true, "size": 45, "color": "#e01818", "opacity": 1},
    "encoding": {"x": {"field": "x", "type": "quantitative"}, "y": {"field": "y", "type": "quantitative"}}},
   {"data": {"values": [{"x": 41.9, "y": -5.3, "t": "15°C"}, {"x": 41.9, "y": -7.9, "t": "25°C"}, {"x": 41.9, "y": -10.4, "t": "35°C"}]}, "mark": {"type": "text", "fontSize": 12, "color": "#222", "align": "left", "baseline": "middle"},
    "encoding": {"x": {"field": "x", "type": "quantitative"}, "y": {"field": "y", "type": "quantitative"}, "text": {"field": "t"}}},
   {"data": {"values": [{"x": 21.4, "y": -13.3, "t": "35°C"}]}, "mark": {"type": "text", "fontWeight": "bold", "fontSize": 12, "color": "#c83030", "align": "right", "baseline": "middle"},
    "encoding": {"x": {"field": "x", "type": "quantitative"}, "y": {"field": "y", "type": "quantitative"}, "text": {"field": "t"}}},
   {"data": {"values": [{"x": 13.9, "y": -13.3, "t": "25°C"}]}, "mark": {"type": "text", "fontWeight": "bold", "fontSize": 12, "color": "#111", "align": "right", "baseline": "middle"},
    "encoding": {"x": {"field": "x", "type": "quantitative"}, "y": {"field": "y", "type": "quantitative"}, "text": {"field": "t"}}},
   {"data": {"values": [{"x": 9.9, "y": -13.3, "t": "15°C"}]}, "mark": {"type": "text", "fontWeight": "bold", "fontSize": 12, "color": "#2a30a0", "align": "left", "baseline": "middle"},
    "encoding": {"x": {"field": "x", "type": "quantitative"}, "y": {"field": "y", "type": "quantitative"}, "text": {"field": "t"}}}
  ]
 }
]
}
